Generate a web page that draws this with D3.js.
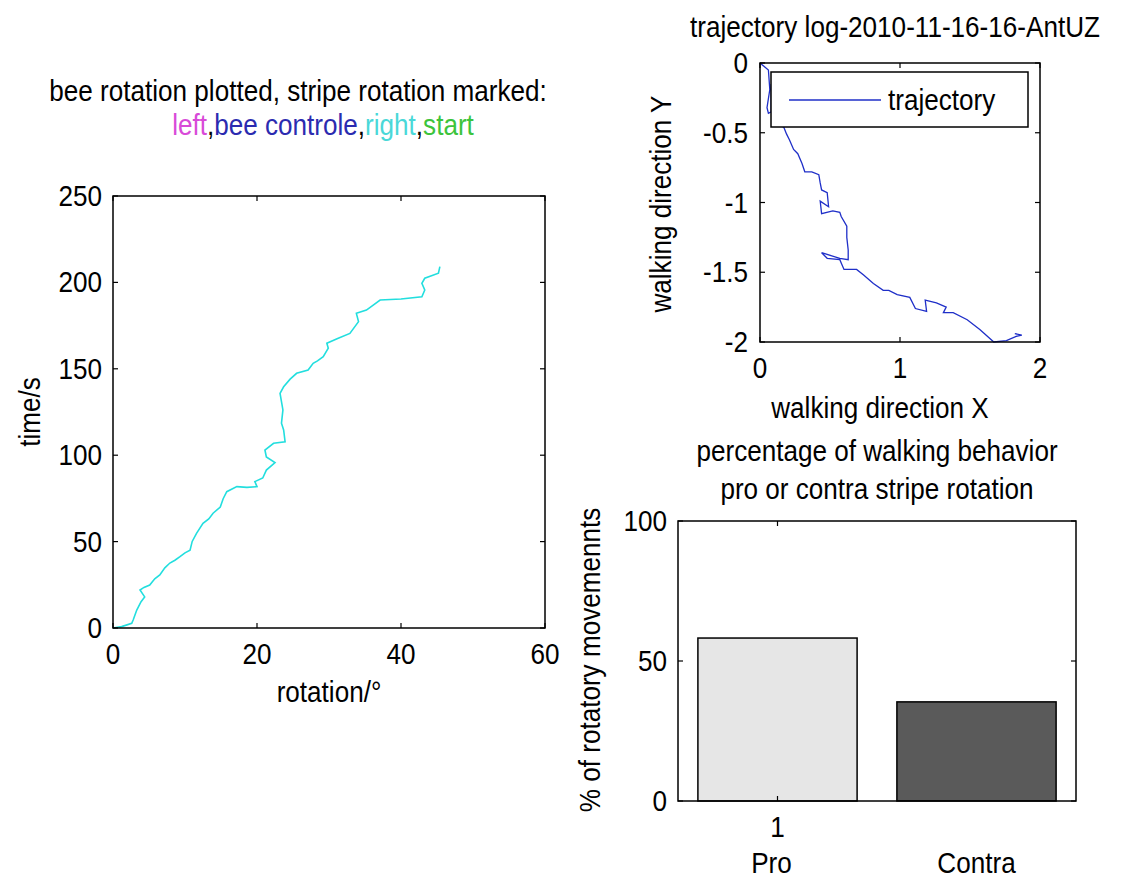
<!DOCTYPE html>
<html>
<head>
<meta charset="utf-8">
<script src="https://d3js.org/d3.v7.min.js"></script>
<style>
  body { margin: 0; background: #fff; }
  text { font-family: "Liberation Sans", Arial, sans-serif; fill: #000; }
</style>
</head>
<body>
<div id="fig"></div>
<script>
'use strict'
// left panel: bee rotation (deg) vs time (s)
const rotX = [0, 1.2, 2.6, 2.8, 3.3, 3.9, 4.4, 3.75, 4.3, 5.1, 5.8, 6.5, 7.2, 7.9, 8.6, 9.3, 10.0, 10.7, 11.0, 11.6, 12.5, 13.3, 13.9, 14.9, 15.3, 15.8, 17.2, 18.6, 20, 19.7, 20.8, 21.3, 22.5, 21.3, 21.1, 22.3, 23.9, 23.7, 23.4, 23.6, 23.2, 23.7, 24.6, 25.5, 27.1, 27.8, 28.4, 29.2, 29.9, 29.7, 31.2, 32.9, 34.1, 33.8, 35.2, 37.1, 40.0, 42.9, 43.3, 42.9, 43.3, 45.2, 45.4]
const timeY = [0, 0.8, 2.7, 4.6, 10.4, 15.2, 18, 22, 23.5, 24.9, 28.5, 30.7, 34.8, 37.6, 39.2, 41.3, 43.5, 45, 50.1, 54.8, 60.6, 63.1, 66.4, 70, 74.8, 78.9, 81.8, 81.4, 81.8, 84.7, 86.8, 91.4, 95.7, 99, 103, 106.9, 107.8, 114.6, 118.5, 126.2, 135.8, 139.6, 144.0, 147.4, 149.3, 153.2, 154.6, 157, 161.9, 164.8, 167.5, 170.5, 177.3, 182.1, 184, 189.8, 190.4, 191.7, 195.6, 199.5, 202.4, 205.3, 209.1]
const rotTicks = [0, 20, 40, 60]
const timeTicks = [0, 50, 100, 150, 200, 250]

// top right: walking trajectory
const trajX = [0, 0.06, 0.07, 0.05, 0.06, 0.08, 0.08, 0.09, 0.13, 0.17, 0.19, 0.21, 0.24, 0.27, 0.30, 0.32, 0.37, 0.42, 0.43, 0.44, 0.48, 0.49, 0.43, 0.44, 0.52, 0.57, 0.58, 0.62, 0.62, 0.63, 0.63, 0.57, 0.44, 0.48, 0.57, 0.60, 0.69, 0.74, 0.81, 0.88, 0.92, 0.98, 1.07, 1.11, 1.19, 1.18, 1.26, 1.33, 1.31, 1.38, 1.48, 1.57, 1.67, 1.76, 1.83, 1.87, 1.82]
const trajY = [0, -0.05, -0.19, -0.32, -0.36, -0.35, -0.15, -0.40, -0.44, -0.46, -0.51, -0.55, -0.62, -0.65, -0.72, -0.78, -0.78, -0.80, -0.86, -0.91, -0.93, -1.03, -0.99, -1.08, -1.06, -1.07, -1.10, -1.17, -1.25, -1.34, -1.41, -1.40, -1.36, -1.40, -1.41, -1.48, -1.48, -1.52, -1.58, -1.63, -1.63, -1.66, -1.68, -1.76, -1.78, -1.70, -1.72, -1.75, -1.79, -1.79, -1.84, -1.91, -2.00, -1.99, -1.96, -1.95, -1.94]
const walkXTicks = [0, 1, 2]
const walkYTicks = [0, -0.5, -1, -1.5, -2]

// bottom right: pro / contra percentages
const behaviour = ["Pro", "Contra"]
const percent = [58.2, 35.4]
const barColors = ["#e6e6e6", "#5a5a5a"]
const pctTicks = [0, 50, 100]

const W = 1133, H = 880
const svg = d3.select("#fig").append("svg").attr("width", W).attr("height", H)

const FS = 29
const SX = 0.9   // the original font is narrower than Liberation Sans
const tickLen = 5

// text squeezed horizontally; rot = -90 for vertical labels
function label(g, x, y, s, anchor, rot) {
  const tf = "translate(" + x + "," + y + ")" + (rot ? " rotate(" + rot + ")" : "") + " scale(" + SX + ",1)"
  return g.append("text").attr("transform", tf).attr("text-anchor", anchor || "middle")
    .style("font-size", FS + "px").text(s)
}

// boxed axes with inward ticks on all four sides
function boxAxes(g, x, y, xt, yt, xfmt, yfmt, ygap) {
  const [x0, x1] = x.range(), [y0, y1] = y.range()
  g.append("rect").attr("x", x0).attr("y", y1).attr("width", x1 - x0).attr("height", y0 - y1)
    .attr("fill", "none").attr("stroke", "#000").attr("stroke-width", 1.5)
  xt.forEach(t => {
    g.append("line").attr("x1", x(t)).attr("x2", x(t)).attr("y1", y0).attr("y2", y0 - tickLen).attr("stroke", "#000").attr("stroke-width", 1.2)
    g.append("line").attr("x1", x(t)).attr("x2", x(t)).attr("y1", y1).attr("y2", y1 + tickLen).attr("stroke", "#000").attr("stroke-width", 1.2)
    label(g, x(t), y0 + 36, xfmt(t))
  })
  yt.forEach(t => {
    g.append("line").attr("x1", x0).attr("x2", x0 + tickLen).attr("y1", y(t)).attr("y2", y(t)).attr("stroke", "#000").attr("stroke-width", 1.2)
    g.append("line").attr("x1", x1).attr("x2", x1 - tickLen).attr("y1", y(t)).attr("y2", y(t)).attr("stroke", "#000").attr("stroke-width", 1.2)
    label(g, x0 - ygap, y(t) + 10, yfmt(t), "end")
  })
}

// ---------- left panel ----------
const lx = d3.scaleLinear().domain([0, 60]).range([113, 545])
const ly = d3.scaleLinear().domain([0, 250]).range([628, 196])
const left = svg.append("g")
left.append("path")
  .datum(rotX.map((d, i) => [d, timeY[i]]))
  .attr("fill", "none").attr("stroke", "#22dede").attr("stroke-width", 1.6)
  .attr("d", d3.line().x(d => lx(d[0])).y(d => ly(d[1])))
boxAxes(left, lx, ly, rotTicks, timeTicks, d3.format("d"), d3.format("d"), 11)
label(left, 298, 101, "bee rotation plotted, stripe rotation marked:")
const sub = label(left, 323, 135, "")
const subParts = [["left", "#d84ad8"], [",", "#000"], ["bee controle", "#2b2bb0"], [",", "#000"], ["right", "#4ad8d8"], [",", "#000"], ["start", "#3cc43c"]]
subParts.forEach(p => sub.append("tspan").style("fill", p[1]).text(p[0]))
label(left, 329, 702, "rotation/°")
label(left, 40, 412, "time/s", "middle", -90)

// ---------- top right panel ----------
const tx = d3.scaleLinear().domain([0, 2]).range([760, 1040])
const ty = d3.scaleLinear().domain([-2, 0]).range([342, 63])
const tr = svg.append("g")
tr.append("path")
  .datum(trajX.map((d, i) => [d, trajY[i]]))
  .attr("fill", "none").attr("stroke", "#1f2fc8").attr("stroke-width", 1.3)
  .attr("d", d3.line().x(d => tx(d[0])).y(d => ty(d[1])))
boxAxes(tr, tx, ty, walkXTicks, walkYTicks, d3.format("d"), d => String(d), 12)
// legend
tr.append("rect").attr("x", 771).attr("y", 72).attr("width", 257).attr("height", 55)
  .attr("fill", "#fff").attr("stroke", "#000").attr("stroke-width", 1.5)
tr.append("line").attr("x1", 789).attr("x2", 881).attr("y1", 100).attr("y2", 100).attr("stroke", "#1f2fc8").attr("stroke-width", 1.3)
label(tr, 888, 110, "trajectory", "start")
label(tr, 895, 37, "trajectory log-2010-11-16-16-AntUZ")
label(tr, 880, 418, "walking direction X")
label(tr, 671, 204, "walking direction Y", "middle", -90)

// ---------- bottom right panel ----------
const bx = d3.scaleLinear().domain([0.5, 2.5]).range([678, 1076])
const by = d3.scaleLinear().domain([0, 100]).range([801, 521])
const br = svg.append("g")
br.selectAll("rect.bar").data(percent).enter().append("rect")
  .attr("class", "bar")
  .attr("x", (d, i) => bx(i + 1 - 0.4))
  .attr("width", bx(1.4) - bx(0.6))
  .attr("y", d => by(d))
  .attr("height", d => by(0) - by(d))
  .attr("fill", (d, i) => barColors[i]).attr("stroke", "#000").attr("stroke-width", 1.5)
boxAxes(br, bx, by, [1], pctTicks, d3.format("d"), d3.format("d"), 11)
behaviour.forEach((d, i) => label(br, bx(i + 1) - (i === 0 ? 6 : 0), 873, d))
label(br, 877, 461, "percentage of walking behavior")
label(br, 877, 499, "pro or contra stripe rotation")
label(br, 600, 660, "% of rotatory movemennts", "middle", -90)
</script>
</body>
</html>
